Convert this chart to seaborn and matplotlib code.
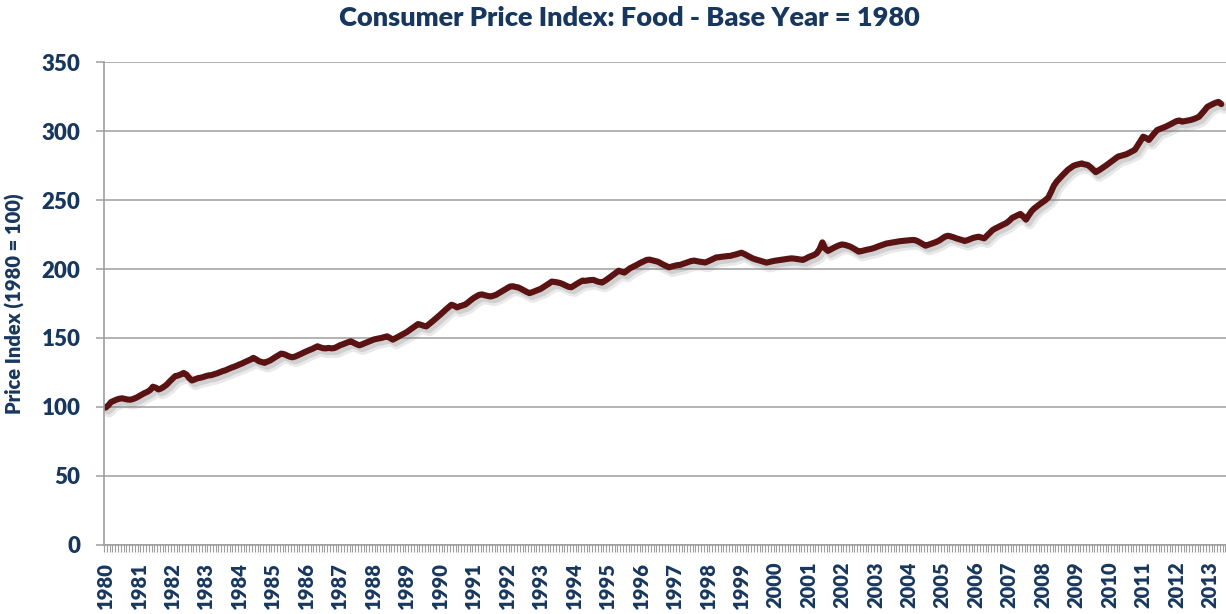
import numpy as np
import pandas as pd
import matplotlib
matplotlib.use("Agg")
import matplotlib.pyplot as plt
import matplotlib.patheffects as pe
from matplotlib.ticker import MultipleLocator, FixedLocator
import seaborn as sns

# Monthly food price index (1980 = 100), one list per calendar year
cpi_1980 = [99.5, 101.2, 103.6, 104.5, 105.4, 106.0, 106.3, 105.8, 105.4, 105.3, 105.9, 106.7]
cpi_1981 = [107.8, 109.0, 110.1, 111.0, 112.3, 114.7, 114.0, 112.7, 113.5, 114.8, 116.3, 118.5]
cpi_1982 = [120.5, 122.4, 122.8, 123.6, 124.7, 123.5, 121.0, 119.2, 120.0, 120.8, 121.2, 121.7]
cpi_1983 = [122.4, 122.9, 123.1, 123.8, 124.4, 125.2, 126.0, 126.6, 127.5, 128.4, 129.1, 129.9]
cpi_1984 = [130.8, 131.6, 132.6, 133.5, 134.4, 135.6, 134.5, 133.2, 132.6, 132.0, 132.9, 133.7]
cpi_1985 = [135.0, 136.3, 137.5, 138.7, 138.3, 137.4, 136.5, 136.0, 136.6, 137.5, 138.4, 139.4]
cpi_1986 = [140.3, 141.2, 142.0, 143.0, 144.0, 143.2, 142.6, 142.5, 142.8, 142.5, 142.7, 143.6]
cpi_1987 = [144.7, 145.4, 146.2, 147.0, 147.6, 146.5, 145.5, 144.7, 145.4, 146.3, 147.1, 147.9]
cpi_1988 = [148.8, 149.3, 149.7, 150.1, 150.7, 151.2, 150.0, 148.8, 149.9, 151.0, 152.1, 153.2]
cpi_1989 = [154.3, 155.8, 157.2, 158.6, 160.1, 159.6, 158.9, 158.4, 160.0, 161.7, 163.4, 165.1]
cpi_1990 = [166.9, 168.8, 170.6, 172.4, 174.1, 173.4, 172.2, 173.0, 173.6, 174.3, 175.8, 177.5]
cpi_1991 = [179.0, 180.2, 181.3, 181.6, 181.0, 180.5, 180.1, 180.6, 181.3, 182.5, 183.7, 184.9]
cpi_1992 = [186.1, 187.3, 187.5, 187.0, 186.6, 185.6, 184.5, 183.4, 182.5, 183.2, 184.0, 184.8]
cpi_1993 = [185.6, 186.9, 188.2, 189.5, 190.9, 190.6, 190.3, 189.8, 189.0, 188.0, 187.1, 186.8]
cpi_1994 = [188.0, 189.3, 190.5, 191.6, 191.4, 191.8, 192.0, 192.1, 191.2, 190.6, 190.2, 191.4]
cpi_1995 = [192.8, 194.3, 195.8, 197.3, 198.8, 198.0, 197.4, 199.0, 200.5, 201.5, 202.5, 203.6]
cpi_1996 = [204.7, 205.6, 206.6, 206.8, 206.3, 205.8, 205.3, 204.2, 203.1, 202.2, 201.2, 201.8]
cpi_1997 = [202.3, 202.8, 203.0, 203.7, 204.4, 205.1, 205.8, 206.1, 205.7, 205.3, 205.0, 204.7]
cpi_1998 = [205.6, 206.5, 207.5, 208.4, 208.6, 208.9, 209.1, 209.4, 209.5, 210.1, 210.6, 211.2]
cpi_1999 = [211.8, 210.9, 209.8, 208.7, 207.7, 207.0, 206.4, 205.8, 205.2, 204.6, 205.1, 205.6]
cpi_2000 = [206.0, 206.3, 206.6, 206.9, 207.2, 207.5, 207.7, 207.5, 207.2, 206.9, 206.6, 207.5]
cpi_2001 = [208.6, 209.4, 210.2, 211.5, 214.5, 219.3, 214.8, 213.1, 214.2, 215.3, 216.3, 217.2]
cpi_2002 = [217.8, 217.5, 216.9, 216.2, 215.1, 213.9, 212.6, 213.0, 213.5, 214.0, 214.4, 214.9]
cpi_2003 = [215.6, 216.4, 217.1, 217.8, 218.5, 218.8, 219.2, 219.5, 219.9, 220.2, 220.4, 220.6]
cpi_2004 = [220.8, 221.0, 221.0, 220.3, 219.2, 218.0, 216.9, 217.6, 218.3, 219.0, 219.8, 220.8]
cpi_2005 = [222.2, 223.5, 224.1, 223.6, 223.0, 222.2, 221.6, 221.0, 220.3, 220.9, 221.7, 222.5]
cpi_2006 = [223.0, 223.4, 222.8, 222.2, 224.2, 226.2, 228.2, 229.4, 230.4, 231.4, 232.4, 233.4]
cpi_2007 = [235.0, 237.0, 238.0, 239.0, 239.9, 238.0, 235.8, 239.0, 242.0, 244.0, 245.6, 247.1]
cpi_2008 = [248.6, 250.0, 251.9, 256.0, 260.5, 263.4, 265.6, 267.8, 269.8, 271.9, 273.4, 274.8]
cpi_2009 = [275.5, 276.0, 276.5, 275.8, 275.5, 274.0, 272.1, 270.2, 271.4, 272.7, 274.1, 275.5]
cpi_2010 = [277.0, 278.5, 280.0, 281.5, 282.0, 282.6, 283.2, 284.2, 285.3, 286.3, 289.5, 292.7]
cpi_2011 = [295.9, 295.0, 293.5, 296.0, 298.4, 300.7, 301.5, 302.3, 303.1, 304.1, 305.1, 306.2]
cpi_2012 = [307.2, 307.6, 306.8, 307.2, 307.6, 308.0, 308.6, 309.4, 310.3, 312.6, 315.0, 317.5]
cpi_2013 = [318.6, 319.6, 320.5, 321.1, 319.5]

years = list(range(1980, 2014))
year_labels = [str(y) for y in years]

series = (cpi_1980 + cpi_1981 + cpi_1982 + cpi_1983 + cpi_1984 + cpi_1985 + cpi_1986
          + cpi_1987 + cpi_1988 + cpi_1989 + cpi_1990 + cpi_1991 + cpi_1992 + cpi_1993
          + cpi_1994 + cpi_1995 + cpi_1996 + cpi_1997 + cpi_1998 + cpi_1999 + cpi_2000
          + cpi_2001 + cpi_2002 + cpi_2003 + cpi_2004 + cpi_2005 + cpi_2006 + cpi_2007
          + cpi_2008 + cpi_2009 + cpi_2010 + cpi_2011 + cpi_2012 + cpi_2013)

df = pd.DataFrame({"month": np.arange(len(series)), "index": series})

sns.set_style("white")
plt.rcParams["font.family"] = ["Lato", "DejaVu Sans"]

navy = "#17375E"
grid_gray = "#9E9E9E"
line_color = "#5A1212"

fig = plt.figure(figsize=(12.26, 6.14), dpi=100)
ax = fig.add_axes([0.0848, 0.1124, 0.915, 0.7866])

sns.lineplot(data=df, x="month", y="index", ax=ax, color=line_color, linewidth=4.4,
             solid_joinstyle="round", solid_capstyle="round",
             path_effects=[pe.SimpleLineShadow(offset=(2.5, -3.0), shadow_color="#7a7a7a",
                                               alpha=0.16, linewidth=8),
                           pe.SimpleLineShadow(offset=(2.0, -2.5), shadow_color="#7a7a7a",
                                               alpha=0.22, linewidth=5),
                           pe.Normal()])

ax.set_ylim(0, 350)
ax.set_xlim(-0.55, 401.6)
ax.yaxis.set_major_locator(MultipleLocator(50))
ax.grid(axis="y", color=grid_gray, linewidth=1.1)
ax.set_axisbelow(True)

# one label per January, one small tick per month
ax.xaxis.set_major_locator(FixedLocator([12 * i for i in range(len(years))]))
ax.set_xticklabels(year_labels, rotation=90, fontsize=14.5, fontweight="heavy", color=navy)
ax.xaxis.set_minor_locator(FixedLocator(np.arange(-0.5, len(series) + 1, 1.0)))
ax.tick_params(axis="x", which="both", bottom=True)
ax.tick_params(axis="x", which="major", length=0, pad=12)
ax.tick_params(axis="x", which="minor", length=5, width=0.8, color=grid_gray, direction="out")
ax.tick_params(axis="y", which="major", left=True, length=6, width=1.1, color=grid_gray,
               direction="out", pad=11, labelsize=16, labelcolor=navy)
for lbl in ax.get_yticklabels():
    lbl.set_fontweight("heavy")

for side in ["top", "right"]:
    ax.spines[side].set_visible(False)
for side in ["left", "bottom"]:
    ax.spines[side].set_color(grid_gray)
    ax.spines[side].set_linewidth(1.2)

ax.set_xlabel("")
ax.set_ylabel("Price Index (1980 = 100)", fontsize=14.5, fontweight="heavy", color=navy)
ax.yaxis.set_label_coords(-0.07, 0.5)

fig.suptitle("Consumer Price Index: Food - Base Year = 1980", x=0.513, y=0.99,
             fontsize=19.5, fontweight="heavy", color=navy)

fig.savefig("out.png", dpi=100)
